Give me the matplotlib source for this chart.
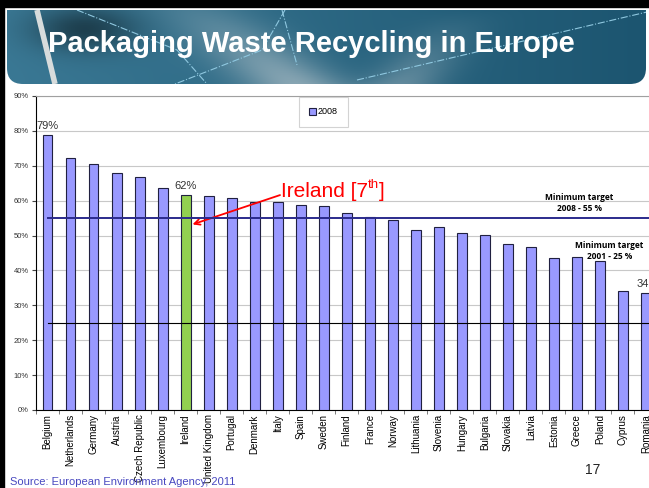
import numpy as np
import matplotlib
matplotlib.use('Agg')
import matplotlib.pyplot as plt
from matplotlib.patches import FancyBboxPatch, Rectangle

plt.rcParams['font.family'] = ['Liberation Sans', 'DejaVu Sans']

# data
countries = ['Belgium', 'Netherlands', 'Germany', 'Austria', 'Czech Republic',
             'Luxembourg', 'Ireland', 'United Kingdom', 'Portugal', 'Denmark',
             'Italy', 'Spain', 'Sweden', 'Finland', 'France', 'Norway',
             'Lithuania', 'Slovenia', 'Hungary', 'Bulgaria', 'Slovakia',
             'Latvia', 'Estonia', 'Greece', 'Poland', 'Cyprus', 'Romania']
rates_2008 = [78.7, 72.2, 70.4, 67.8, 66.9, 63.5, 61.6, 61.3, 60.8, 59.5,
              59.5, 58.9, 58.4, 56.6, 55.2, 54.6, 51.6, 52.4, 50.7, 50.1,
              47.7, 46.7, 43.5, 43.8, 42.8, 34.0, 33.5]
target_2008 = 55
target_2001 = 25
y_ticks = [0, 10, 20, 30, 40, 50, 60, 70, 80, 90]

W, H = 649, 488
fig = plt.figure(figsize=(W / 100, H / 100), dpi=100)
fig.patch.set_facecolor('white')

# black frame on top / left of the slide
fig.patches.append(Rectangle((0, 1 - 7 / H), 1, 7 / H, transform=fig.transFigure,
                             color='black', zorder=0))
fig.patches.append(Rectangle((0, 0), 4 / W, 1, transform=fig.transFigure,
                             color='black', zorder=0))

# banner
bx = fig.add_axes([7 / W, 1 - 84 / H, 639 / W, 74 / H])
bx.set_xlim(0, 639)
bx.set_ylim(74, 0)
bx.axis('off')
xx, yy = np.meshgrid(np.linspace(0, 1, 320), np.linspace(0, 1, 40))
c_left = np.array([0x3a, 0x78, 0x94]) / 255
c_right = np.array([0x1c, 0x55, 0x70]) / 255
img = c_left[None, None, :] * (1 - xx[..., None]) + c_right[None, None, :] * xx[..., None]
# soft grey highlight band in the middle
glow = np.exp(-((xx - 0.30 - 0.15 * yy) / 0.08) ** 2) * (0.3 + 0.7 * yy)
glow += 0.6 * np.exp(-((xx - 0.72 + 0.1 * yy) / 0.06) ** 2) * yy
img = img * (1 - 0.55 * glow[..., None]) + np.array([0.82, 0.84, 0.85]) * 0.55 * glow[..., None]
# darker upper-left block
dark = np.exp(-(((xx - 0.12) / 0.08) ** 2 + ((yy - 0.25) / 0.3) ** 2))
img = img * (1 - 0.45 * dark[..., None])
im = bx.imshow(np.clip(img, 0, 1), extent=[0, 639, 74, 0], aspect='auto')
clip = FancyBboxPatch((0, -20), 639, 94, boxstyle='round,pad=0,rounding_size=16',
                      transform=bx.transData, facecolor='none', edgecolor='none')
bx.add_patch(clip)
im.set_clip_path(clip)
# light diagonal bar and dash-dot decorations
bx.plot([30, 48], [0, 74], color='#d8dcdc', lw=4, solid_capstyle='butt')
bx.plot([70, 170, 200], [0, 40, 74], color='#8fc8e0', lw=0.8, ls='-.')
bx.plot([278, 255, 168], [0, 40, 74], color='#8fc8e0', lw=0.8, ls='-.')
bx.plot([350, 640], [70, 2], color='#8fc8e0', lw=0.8, ls='-.')
bx.plot([275, 290], [0, 55], color='#8fc8e0', lw=0.8, ls='-.')
bx.text(41, 34, 'Packaging Waste Recycling in Europe', color='white',
        fontsize=21, fontweight='bold', va='center', ha='left')

# chart
ax = fig.add_axes([36 / W, (H - 410) / H, 621.5 / W, 314 / H])
x = np.arange(len(countries))
colors = ['#92d050' if c == 'Ireland' else '#9999ff' for c in countries]
ax.bar(x, rates_2008, width=0.43, color=colors, edgecolor='#202040',
       linewidth=0.8, zorder=3, label='2008')
ax.set_xlim(-0.5, len(countries) - 0.5)
ax.set_ylim(0, 90)
ax.set_yticks(y_ticks)
ax.set_yticklabels([f'{v}%' for v in y_ticks], fontsize=5.5, color='#333333')
ax.yaxis.grid(True, color='#c8c8c8', lw=0.8, zorder=0)
ax.set_xticks(x)
ax.set_xticklabels(countries, rotation=90, fontsize=7)
ax.set_xticks(np.arange(-0.5, len(countries), 1), minor=True)
ax.tick_params(axis='x', which='major', length=0, pad=3)
ax.tick_params(axis='x', which='minor', length=3, color='#666666')
ax.tick_params(axis='y', length=3, pad=2, color='#444444')
ax.spines['top'].set_color('#a0a0a0')
ax.spines['left'].set_color('black')
ax.spines['bottom'].set_color('black')
ax.spines['right'].set_visible(False)

# target lines
ax.plot([0, len(countries)], [target_2008, target_2008], color='#2b2b8c', lw=1.4, zorder=4)
ax.plot([0, len(countries)], [target_2001, target_2001], color='black', lw=0.8, zorder=4)
ax.text(23.1, 59.3, 'Minimum target\n2008 - 55 %', fontsize=6, fontweight='bold',
        ha='center', va='center', family=['Open Sans', 'DejaVu Sans'], linespacing=1.3)
ax.text(24.4, 45.6, 'Minimum target\n2001 - 25 %', fontsize=6, fontweight='bold',
        ha='center', va='center', family=['Open Sans', 'DejaVu Sans'], linespacing=1.3,
        zorder=5)

# value labels
ax.text(0, 81.3, '79%', fontsize=8, ha='center', va='center', color='#333333')
ax.text(6, 64.2, '62%', fontsize=8, ha='center', va='center', color='#333333')
ax.text(25.85, 36.2, '34', fontsize=8, ha='center', va='center', color='#333333')

# Ireland callout: arrow, then text pieces with a superscript
ax.annotate('', xy=(6.3, 53.2), xytext=(10.1, 61.6),
            arrowprops=dict(arrowstyle='->', color='red', lw=1.3,
                            shrinkA=0, shrinkB=0))
t1 = ax.text(10.15, 62.5, 'Ireland [7', fontsize=15, color='red', va='center', ha='left')
fig.canvas.draw()
r = fig.canvas.get_renderer()
inv = ax.transData.inverted()
x_end = inv.transform((t1.get_window_extent(r).x1, 0))[0]
t2 = ax.text(x_end, 62.8, 'th', fontsize=9.5, color='red', va='bottom', ha='left')
x_end2 = inv.transform((t2.get_window_extent(r).x1, 0))[0]
ax.text(x_end2, 62.5, ']', fontsize=15, color='red', va='center', ha='left')

leg = ax.legend(loc='center', bbox_to_anchor=(323.5 / W, 1 - 112 / H),
                bbox_transform=fig.transFigure, fontsize=6.5, frameon=True,
                fancybox=False, handlelength=0.7, handleheight=0.7,
                borderpad=1.2, borderaxespad=0, handletextpad=0.2)
leg.get_frame().set_edgecolor('#c8c8c8')
leg.get_frame().set_linewidth(0.8)

fig.text(593 / W, 1 - 470 / H, '17', fontsize=10, ha='center', va='center', color='#222222')
fig.text(10 / W, 1 - 482 / H, 'Source: European Environment Agency, 2011', fontsize=8,
         ha='left', va='center', color='#4848c0')

fig.savefig('out.png', dpi=100)
